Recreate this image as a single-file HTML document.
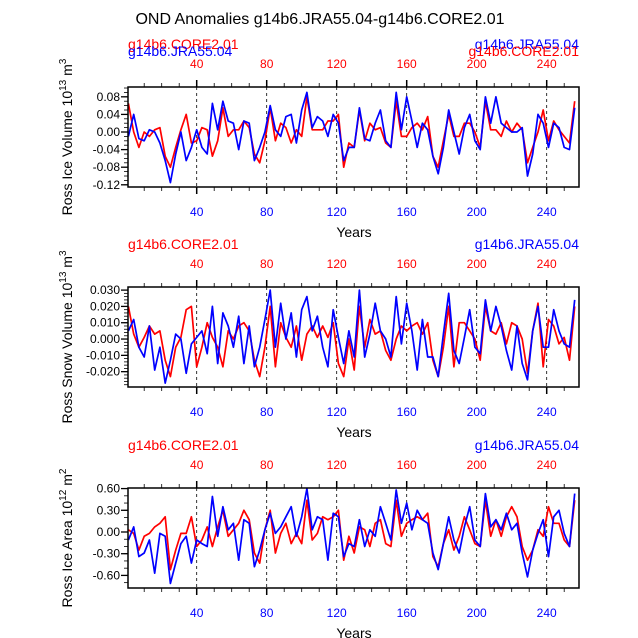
<!DOCTYPE html>
<html><head><meta charset="utf-8"><style>
body{margin:0;background:#fff;}
svg{display:block;font-family:"Liberation Sans",sans-serif;}
</style></head><body>
<svg id="chart" width="638" height="638" viewBox="0 0 638 638">
<text x="320" y="24" font-size="16" text-anchor="middle">OND Anomalies g14b6.JRA55.04-g14b6.CORE2.01</text>
</svg>
<script>
const core_ice_vol=[0.065,0,-0.035,0,-0.01,0.005,0.01,-0.055,-0.08,-0.035,0.005,0.04,-0.025,-0.02,0.01,0.005,-0.055,-0.02,0.055,-0.01,0.005,0.005,0.025,0.01,-0.05,-0.07,-0.02,0.055,-0.02,0.02,0.01,-0.025,0.005,-0.01,0.08,0.005,0.005,0.005,0.025,0.025,0.04,-0.08,-0.025,-0.035,0.05,-0.02,0.02,0.005,0.01,-0.025,-0.035,0.07,-0.01,-0.01,0.01,0.02,0.005,0.035,-0.055,-0.08,-0.02,0.04,-0.01,-0.01,0.02,0.02,0,-0.035,0.07,0.005,0.005,-0.01,0.025,0,0.02,0.005,-0.07,-0.035,0,0.05,-0.02,0.025,0.005,-0.01,-0.025,0.07];
const jra_ice_vol=[-0.01,0.04,-0.015,-0.02,0.005,0,-0.025,-0.065,-0.115,-0.05,0,-0.065,-0.035,0.005,-0.035,-0.05,0.065,0.005,0.07,0.025,0.02,-0.04,0.025,0.02,-0.065,-0.035,0,0.06,0.005,-0.01,0.035,0.04,-0.025,0.05,0.09,0.01,0.035,0.025,-0.01,0.04,0.02,-0.065,-0.035,-0.035,0.055,-0.015,-0.02,0.02,0.05,-0.02,-0.035,0.09,0.005,0.08,0.025,-0.035,0.02,0.005,-0.055,-0.095,-0.035,0.05,0,-0.05,0.01,0.04,-0.02,-0.04,0.08,0.02,0.08,0.02,0.01,0,0,0.01,-0.1,-0.05,0.04,0.02,-0.035,0.02,0.01,-0.035,-0.04,0.055];
const core_snow_vol=[0.02,0.003,-0.005,0.001,0.008,0.003,0.005,-0.013,-0.023,-0.005,0.001,0.018,0.02,-0.017,-0.005,0.01,0.001,-0.005,-0.017,0.005,0,0.008,0.01,0.005,-0.013,-0.023,-0.005,0.02,-0.017,0.01,0.001,-0.005,0.008,-0.013,0.003,0.008,0.001,0.008,0.001,0.01,-0.015,-0.023,0,-0.019,0.02,-0.005,0.012,0.003,0.005,-0.007,-0.013,0,0.008,0.005,0.008,0.01,0.003,0.01,-0.013,-0.023,-0.005,0.02,-0.017,0.01,0.01,0.005,0,-0.013,0.02,0.005,0.003,0.01,-0.003,0.01,0.008,0,-0.021,0.005,0.022,-0.017,0.012,0.008,-0.003,0.001,-0.013,0.02];
const jra_snow_vol=[0.005,0.012,-0.005,-0.011,0.008,-0.019,-0.005,-0.027,-0.013,0.003,0,-0.021,-0.003,0.001,0.005,-0.009,0.02,-0.015,0.016,0.008,-0.005,0.014,-0.015,0.008,-0.017,-0.005,0.012,0.03,-0.005,0.022,0,0.016,-0.011,0.018,0.026,0.005,0.014,-0.005,-0.017,0.018,0.001,-0.015,0.005,-0.011,0.03,-0.011,0.003,0.022,0.005,0,-0.011,0.026,-0.003,0.022,0.005,-0.019,0.012,-0.011,-0.011,-0.023,0.003,0.028,-0.007,-0.015,0.001,0.018,-0.005,-0.009,0.024,0.005,0.02,0.008,-0.007,-0.019,0.008,-0.015,-0.025,0.005,0.02,-0.005,-0.005,0.018,0.005,-0.003,-0.005,0.024];
const core_ice_area=[0.03,-0.02,-0.25,-0.06,-0.02,0.07,0.12,0.21,-0.52,-0.25,-0.02,-0.02,0.21,-0.2,-0.11,0.07,-0.2,0.07,0.3,-0.06,0.03,0.12,0.3,0.17,-0.29,-0.43,0.03,0.3,-0.29,-0.02,0.12,-0.16,-0.02,-0.16,0.44,-0.11,-0.02,0.21,0.17,0.21,0.3,-0.39,-0.06,-0.29,0.07,0.03,-0.2,0.12,0.17,-0.16,-0.2,0.44,-0.06,0.12,0.17,0.21,0.17,0.26,-0.34,-0.48,-0.16,0.03,-0.25,-0.06,0.21,0.03,-0.16,-0.2,0.44,-0.06,0.17,-0.06,0.21,0.35,0.21,-0.2,-0.39,-0.25,0.03,-0.06,0.35,0.12,0.12,-0.11,-0.2,0.44];
const jra_ice_area=[-0.11,0.07,-0.34,-0.29,-0.11,-0.57,-0.02,-0.06,-0.71,-0.43,-0.16,-0.06,-0.43,-0.11,-0.16,-0.2,0.49,-0.06,0.35,0.03,0.12,-0.39,0.17,0.12,-0.48,-0.25,0.03,0.26,-0.02,0.07,0.21,0.35,-0.06,0.21,0.6,0.03,0.21,0.17,-0.39,0.26,0.21,-0.34,-0.16,-0.2,0.17,-0.2,0.03,-0.06,0.35,0.12,-0.11,0.58,0.12,0.4,0.03,0.3,0.17,0.12,-0.29,-0.52,-0.16,0.21,-0.11,-0.29,0.07,0.35,-0.11,-0.2,0.53,0.07,0.17,0.03,0.26,0.03,0.12,-0.29,-0.62,-0.25,-0.02,0.17,-0.34,0.21,0.3,-0.02,-0.2,0.53];
const x_ticks=[40,80,120,160,200,240];
const p1_ticks=[0.08,0.04,0,-0.04,-0.08,-0.12];
const p1_labels=["0.08","0.04","0.00","-0.04","-0.08","-0.12"];
const p2_ticks=[0.03,0.02,0.01,0,-0.01,-0.02];
const p2_labels=["0.030","0.020","0.010","0.000","-0.010","-0.020"];
const p3_ticks=[0.6,0.3,0,-0.3,-0.6];
const p3_labels=["0.60","0.30","0.00","-0.30","-0.60"];

const NS="http://www.w3.org/2000/svg";
const svg=document.getElementById('chart');
const L=128,R=579,ORIGIN=126.7,PXY=1.75,X1=(R-ORIGIN)/PXY;
function xs(v){return ORIGIN+v*PXY;}
function mk(tag,attrs,parent){const e=document.createElementNS(NS,tag);for(const k in attrs)e.setAttribute(k,attrs[k]);(parent||svg).appendChild(e);return e;}

const panels=[
 {name:'ice-volume',top:87,ymax:0.1023,ymin:-0.125,ticks:p1_ticks,labels:p1_labels,minor:0.01,core:core_ice_vol,jra:jra_ice_vol,title:'Ross Ice Volume 10',sup:'13',unit:' m',usup:'3',swap:true},
 {name:'snow-volume',top:287,ymax:0.0319,ymin:-0.0294,ticks:p2_ticks,labels:p2_labels,minor:0.002,core:core_snow_vol,jra:jra_snow_vol,title:'Ross Snow Volume 10',sup:'13',unit:' m',usup:'3',swap:false},
 {name:'ice-area',top:488,ymax:0.608,ymin:-0.774,ticks:p3_ticks,labels:p3_labels,minor:0.1,core:core_ice_area,jra:jra_ice_area,title:'Ross Ice Area 10',sup:'12',unit:' m',usup:'2',swap:false}
];
panels.forEach(p=>{
 const T=p.top,B=p.top+100;
 const ys=v=>T+(p.ymax-v)*(B-T)/(p.ymax-p.ymin);
 const g=mk('g',{});
 
 
 x_ticks.forEach(t=>{const l=mk('line',{x1:xs(t),x2:xs(t),y1:T,y2:B,stroke:'#000','stroke-width':0.8,'stroke-dasharray':'3,3'},g);
  });
 [['core','#f00'],['jra','#00f']].forEach(([k,c])=>{
  const d=p[k].map((v,i)=>(i?'L':'M')+xs(1+3*i).toFixed(1)+','+ys(v).toFixed(1)).join('');
  const pa=mk('path',{d:d,fill:'none',stroke:c,'stroke-width':1.7,'stroke-linejoin':'round'},g);
  
 });
 const fr=mk('rect',{x:L,y:T,width:R-L,height:B-T,fill:'none',stroke:'#000','stroke-width':1.5},g);
 
 for(let t=10;t<X1;t+=10){const maj=t%40===0,len=maj?7:4;
  mk('line',{x1:xs(t),x2:xs(t),y1:T,y2:T-len,stroke:'#000','stroke-width':maj?1.5:0.8},g);
  mk('line',{x1:xs(t),x2:xs(t),y1:B,y2:B+len,stroke:'#000','stroke-width':maj?1.5:0.8},g);}
 x_ticks.forEach(t=>{
  const a=mk('text',{x:xs(t),y:T-19,'font-size':12,fill:'#f00','text-anchor':'middle'},g);a.textContent=t;
  
  const b=mk('text',{x:xs(t),y:B+29,'font-size':12,fill:'#00f','text-anchor':'middle'},g);b.textContent=t;
  
 });
 for(let v=Math.ceil(p.ymin/p.minor)*p.minor;v<=p.ymax;v+=p.minor){mk('line',{x1:L,x2:L-4,y1:ys(v),y2:ys(v),stroke:'#000','stroke-width':0.8},g);}
 p.ticks.forEach((v,i)=>{mk('line',{x1:L,x2:L-7,y1:ys(v),y2:ys(v),stroke:'#000','stroke-width':1.3},g);
  const t=mk('text',{x:L-8,y:ys(v)+4,'font-size':12,'text-anchor':'end'},g);t.textContent=p.labels[i];
  });
 const xt=mk('text',{x:354,y:B+50,'font-size':14,'text-anchor':'middle'},g);xt.textContent='Years';
 
 const yt=mk('text',{transform:'translate(72,'+(T+50)+') rotate(-90)','font-size':14,'text-anchor':'middle'},g);
 
 yt.appendChild(document.createTextNode(p.title));
 const s1=mk('tspan',{dy:-6,'font-size':10},yt);s1.textContent=p.sup;
 const s2=mk('tspan',{dy:6},yt);s2.textContent=p.unit;
 const s3=mk('tspan',{dy:-6,'font-size':10},yt);s3.textContent=p.usup;
 const ly1=T-38,ly2=p.swap?T-31:T-38;
 const c=mk('text',{x:L,y:ly1,'font-size':14,fill:'#f00'},g);c.textContent='g14b6.CORE2.01';
 
 const j=mk('text',{x:p.swap?L:R,y:ly2,'font-size':14,fill:'#00f','text-anchor':p.swap?'start':'end'},g);j.textContent='g14b6.JRA55.04';
 
 if(p.swap){
  const j2=mk('text',{x:R,y:ly1,'font-size':14,fill:'#00f','text-anchor':'end'},g);j2.textContent='g14b6.JRA55.04';
  
  const c2=mk('text',{x:R,y:ly2,'font-size':14,fill:'#f00','text-anchor':'end'},g);c2.textContent='g14b6.CORE2.01';
  
 }
});
</script>
</body></html>
